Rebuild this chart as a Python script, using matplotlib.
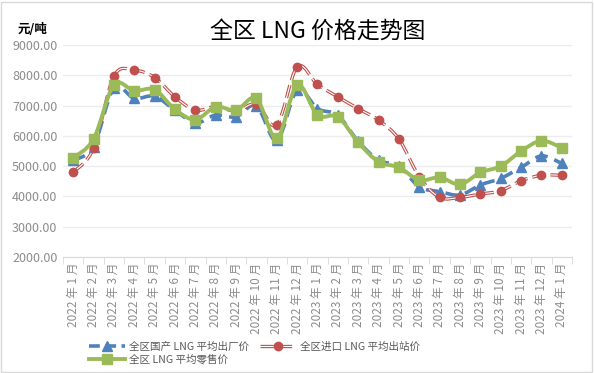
import matplotlib
matplotlib.use("Agg")
import matplotlib.pyplot as plt
from matplotlib.path import Path
from matplotlib.patches import PathPatch
from matplotlib.lines import Line2D
from matplotlib.legend_handler import HandlerTuple
import numpy as np

plt.rcParams['font.family'] = ['Noto Sans CJK SC', 'DejaVu Sans']

months = ["2022 年 1 月", "2022 年 2 月", "2022 年 3 月", "2022 年 4 月", "2022 年 5 月",
          "2022 年 6 月", "2022 年 7 月", "2022 年 8 月", "2022 年 9 月", "2022 年 10 月",
          "2022 年 11 月", "2022 年 12 月", "2023 年 1 月", "2023 年 2 月", "2023 年 3 月",
          "2023 年 4 月", "2023 年 5 月", "2023 年 6 月", "2023 年 7 月", "2023 年 8 月",
          "2023 年 9 月", "2023 年 10 月", "2023 年 11 月", "2023 年 12 月", "2024 年 1 月"]

domestic = [5200, 5650, 7580, 7240, 7310, 6850, 6430, 6690, 6630, 7000, 5850, 7510,
            6900, 6680, 5820, 5200, 5000, 4320, 4160, 4050, 4380, 4600, 4960, 5340, 5090]
imported = [4800, 5590, 7970, 8170, 7930, 7290, 6850, 6970, 6820, 7050, 6360, 8280,
            7700, 7290, 6900, 6520, 5895, 4650, 3970, 3970, 4080, 4190, 4520, 4700, 4700]
retail = [5280, 5895, 7680, 7490, 7530, 6875, 6540, 6960, 6850, 7240, 5920, 7680,
          6690, 6630, 5785, 5145, 4960, 4540, 4630, 4400, 4795, 5000, 5500, 5840, 5610]

names = ["全区国产 LNG 平均出厂价", "全区进口 LNG 平均出站价", "全区 LNG 平均零售价"]
yticks = [2000, 3000, 4000, 5000, 6000, 7000, 8000, 9000]

BLUE = "#4f81bd"
RED = "#c0504d"
GREEN = "#9bbb59"
GRAY = "#8c8c8c"


def smooth_path(xs, ys):
    # Catmull-Rom style bezier through every point (like Excel's smoothed line)
    pts = np.column_stack([xs, ys]).astype(float)
    n = len(pts)
    verts = [pts[0]]
    codes = [Path.MOVETO]
    for i in range(n - 1):
        p0 = pts[i - 1] if i > 0 else pts[i]
        p1 = pts[i]
        p2 = pts[i + 1]
        p3 = pts[i + 2] if i + 2 < n else pts[i + 1]
        c1 = p1 + (p2 - p0) / 6.0
        c2 = p2 - (p3 - p1) / 6.0
        verts += [c1, c2, p2]
        codes += [Path.CURVE4] * 3
    return Path(verts, codes)


fig = plt.figure(figsize=(5.94, 3.73), dpi=100)
ax = fig.add_axes([0.106, 0.311, 0.857, 0.568])
x = np.arange(len(months))

# blue dashed
ax.add_patch(PathPatch(smooth_path(x, domestic), fill=False, edgecolor=BLUE, lw=2.6,
                       linestyle=(0, (3.5, 2)), capstyle='butt', zorder=3))
ax.plot(x, domestic, ls='none', marker='^', ms=7, color=BLUE, zorder=4)

# red double dashed line
ax.add_patch(PathPatch(smooth_path(x, imported), fill=False, edgecolor=RED, lw=2.4,
                       linestyle=(0, (4, 1.5)), capstyle='butt', zorder=3))
ax.add_patch(PathPatch(smooth_path(x, imported), fill=False, edgecolor='white', lw=0.8,
                       linestyle=(0, (12, 4.5)), capstyle='butt', zorder=3))
ax.plot(x, imported, ls='none', marker='o', ms=6, color=RED, zorder=4)

# green solid
ax.add_patch(PathPatch(smooth_path(x, retail), fill=False, edgecolor=GREEN, lw=2.8, zorder=5))
ax.plot(x, retail, ls='none', marker='s', ms=7, color=GREEN, zorder=6)

ax.set_xlim(-0.5, len(months) - 0.5)
ax.set_ylim(2000, 9000)
ax.set_yticks(yticks)
ax.set_yticklabels([f"{v:.2f}" for v in yticks], color=GRAY, fontsize=9)
ax.set_xticks(x)
ax.set_xticklabels(months, rotation=90, color=GRAY, fontsize=8.5)
ax.set_xticks(np.arange(-0.5, len(months)), minor=True)
ax.tick_params(axis='x', which='major', length=0, pad=4)
ax.tick_params(axis='x', which='minor', length=5, color='#d9d9d9')
ax.tick_params(axis='y', length=0, pad=4)
ax.grid(axis='y', color='#ececec', lw=1)
ax.set_axisbelow(True)
for s in ['top', 'right', 'left']:
    ax.spines[s].set_visible(False)
ax.spines['bottom'].set_color('#d9d9d9')

fig.text(0.535, 0.915, "全区 LNG 价格走势图", ha='center', va='center', fontsize=16.5)
fig.text(0.03, 0.92, "元/吨", ha='left', va='center', fontsize=9, fontweight='bold')

h_blue = Line2D([], [], color=BLUE, lw=2.6, ls=(0, (3, 1.5)), marker='^', ms=7)
h_red = (Line2D([], [], color=RED, lw=2.4, ls=(0, (4, 1.5))),
         Line2D([], [], color='white', lw=0.8),
         Line2D([], [], color=RED, ls='none', marker='o', ms=6))
h_green = Line2D([], [], color=GREEN, lw=2.8, marker='s', ms=7)
leg = fig.legend([h_blue, h_green, h_red], [names[0], names[2], names[1]],
                 handler_map={tuple: HandlerTuple(ndivide=1, pad=0)},
                 loc='lower left', bbox_to_anchor=(0.135, 0.0), ncol=2, frameon=False,
                 fontsize=7.6, handlelength=3.4, handletextpad=0.4, columnspacing=1.1,
                 labelspacing=0.25, borderpad=0.3)
for t in leg.get_texts():
    t.set_color('#595959')

fig.patches.append(plt.Rectangle((0.002, 0.004), 0.994, 0.99, transform=fig.transFigure,
                                 fill=False, edgecolor='#d9d9d9', lw=1))

fig.savefig("out.png", dpi=100, facecolor='white')
